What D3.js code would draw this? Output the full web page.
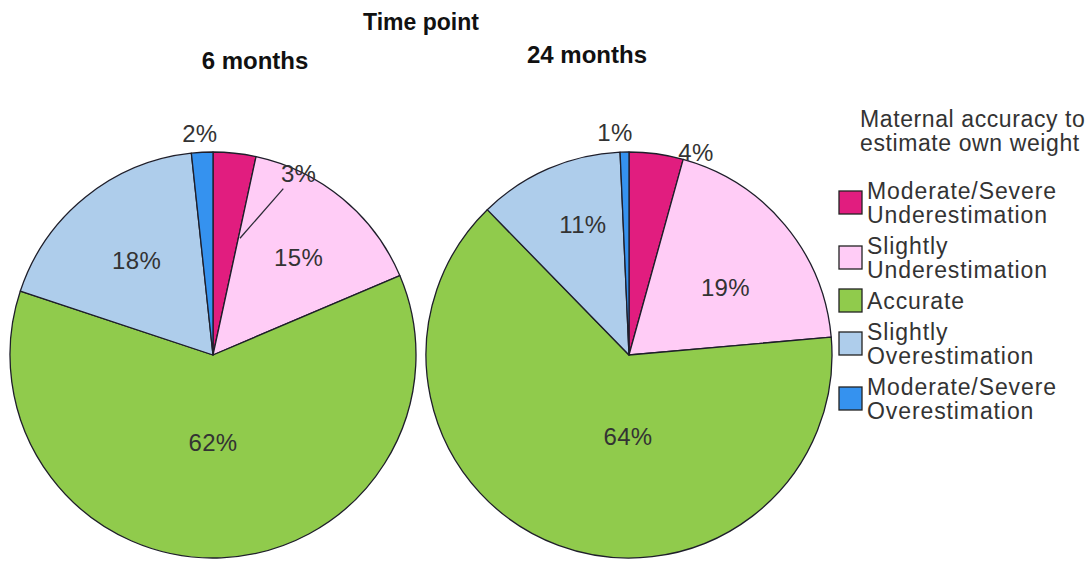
<!DOCTYPE html>
<html>
<head>
<meta charset="utf-8">
<script src="https://cdn.jsdelivr.net/npm/d3@7"></script>
<style>
  html, body { margin: 0; padding: 0; background: #fff; }
  svg { display: block; }
  text { font-family: "Liberation Sans", Arial, sans-serif; }
</style>
</head>
<body>
<svg id="chart" width="1090" height="561"></svg>
<script>
// ---- data ----
const categories = [
  "Moderate/Severe Underestimation",
  "Slightly Underestimation",
  "Accurate",
  "Slightly Overestimation",
  "Moderate/Severe Overestimation"
];
const legendLines = [
  ["Moderate/Severe", "Underestimation"],
  ["Slightly", "Underestimation"],
  ["Accurate"],
  ["Slightly", "Overestimation"],
  ["Moderate/Severe", "Overestimation"]
];
const timePoints = ["6 months", "24 months"];
const values6 = [3.4, 15.2, 61.5, 18.2, 1.7];
const values24 = [4.3, 19.3, 64.1, 11.6, 0.7];
const labels6 = ["3%", "15%", "62%", "18%", "2%"];
const labels24 = ["4%", "19%", "64%", "11%", "1%"];
const colors = ["#e11d7f", "#ffccf6", "#90cb4c", "#aecdeb", "#3592ef"];
const legendTitle = ["Maternal accuracy to", "estimate own weight"];
const chartTitle = "Time point";

// ---- layout ----
const svg = d3.select("#chart");
const R = 203;
const pies = [
  { name: timePoints[0], values: values6, labels: labels6, cx: 213, cy: 355, tx: 255, ty: 69,
    place: [
      { r: 0.99, a: 25.2, leader: [[0.59, 13], [0.89, 22.9]] },
      { r: 0.64, a: 41.2 },
      { r: 0.43, a: 180 },
      { r: 0.60, a: null },
      { r: 1.095, a: 356.6 }
    ] },
  { name: timePoints[1], values: values24, labels: labels24, cx: 629, cy: 355, tx: 587, ty: 63,
    place: [
      { r: 1.05, a: 18.3 },
      { r: 0.58, a: 55 },
      { r: 0.40, a: 180.7 },
      { r: 0.68, a: 340.5 },
      { r: 1.10, a: 356.4 }
    ] }
];

const color = d3.scaleOrdinal().domain(categories).range(colors);
const pieGen = d3.pie().sort(null).value(d => d.v);
const arcGen = d3.arc().innerRadius(0).outerRadius(R);

function polar(rf, deg) {
  const a = deg * Math.PI / 180;
  return [Math.sin(a) * rf * R, -Math.cos(a) * rf * R];
}

svg.append("text")
  .attr("x", 421).attr("y", 30)
  .attr("text-anchor", "middle")
  .attr("font-size", 23).attr("font-weight", "bold").attr("fill", "#111")
  .text(chartTitle);

pies.forEach(p => {
  const data = categories.map((c, i) => ({ c, v: p.values[i], label: p.labels[i] }));
  const arcs = pieGen(data);
  svg.append("text")
    .attr("x", p.tx).attr("y", p.ty)
    .attr("text-anchor", "middle")
    .attr("font-size", 24).attr("font-weight", "bold").attr("fill", "#111")
    .text(p.name);

  const g = svg.append("g").attr("transform", `translate(${p.cx},${p.cy})`);
  g.selectAll("path.slice").data(arcs).join("path")
    .attr("class", "slice")
    .attr("d", arcGen)
    .attr("fill", d => color(d.data.c))
    .attr("stroke", "#1e1e2a")
    .attr("stroke-width", 1.3)
    .attr("stroke-linejoin", "round");

  arcs.forEach((d, i) => {
    const pl = p.place[i];
    const midDeg = ((d.startAngle + d.endAngle) / 2) * 180 / Math.PI;
    const [x, y] = polar(pl.r, pl.a === null ? midDeg : pl.a);
    if (pl.leader) {
      const [x1, y1] = polar(pl.leader[0][0], pl.leader[0][1]);
      const [x2, y2] = polar(pl.leader[1][0], pl.leader[1][1]);
      g.append("line").attr("x1", x1).attr("y1", y1).attr("x2", x2).attr("y2", y2)
        .attr("stroke", "#2a2a35").attr("stroke-width", 1.3);
    }
    g.append("text")
      .attr("x", x).attr("y", y)
      .attr("text-anchor", "middle")
      .attr("dominant-baseline", "central")
      .attr("font-size", 24).attr("letter-spacing", 0.3).attr("fill", "#333")
      .text(d.data.label);
  });
});

// ---- legend ----
const lg = svg.append("g");
legendTitle.forEach((t, i) => {
  lg.append("text").attr("x", 860).attr("y", 127 + i * 24)
    .attr("font-size", 23).attr("letter-spacing", 0.6).attr("fill", "#333").text(t);
});
const itemStarts = [];
let yb = 199;
legendLines.forEach((lines, i) => {
  itemStarts.push(yb);
  yb += lines.length * 24 + 7;
});
legendLines.forEach((lines, i) => {
  const y0 = itemStarts[i];
  const blockCenter = y0 - 17 + (17 + 24 * (lines.length - 1)) / 2;
  lg.append("rect")
    .attr("x", 839).attr("y", blockCenter - 11.5)
    .attr("width", 23).attr("height", 23)
    .attr("fill", color(categories[i]))
    .attr("stroke", "#222").attr("stroke-width", 1.3);
  lines.forEach((t, j) => {
    lg.append("text").attr("x", 867).attr("y", y0 + j * 24)
      .attr("font-size", 23).attr("letter-spacing", 0.9).attr("fill", "#333").text(t);
  });
});
</script>
</body>
</html>
